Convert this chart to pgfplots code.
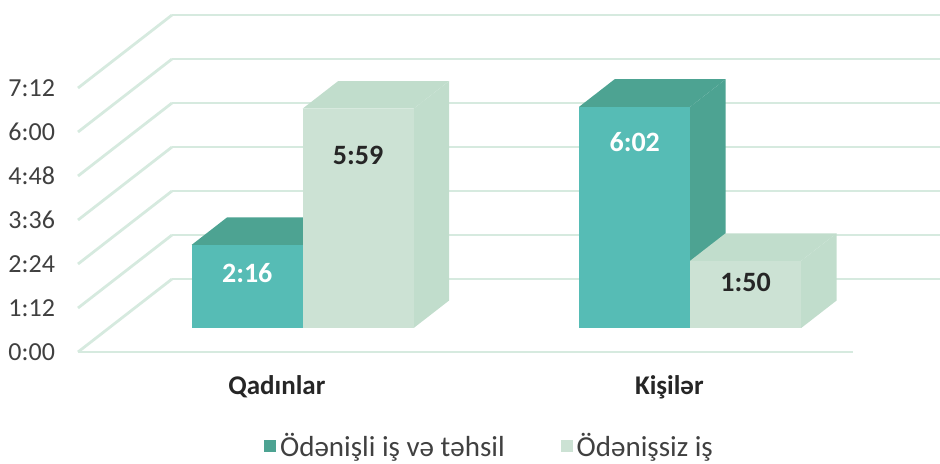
\documentclass[border=0pt]{standalone}
\usepackage{fontspec}
\setmainfont{Carlito}
\usepackage{pgfplots}
\usepackage{pgfplotstable}
\pgfplotsset{compat=1.18}

\definecolor{tealF}{HTML}{56BCB5}
\definecolor{tealS}{HTML}{4DA392}
\definecolor{lightF}{HTML}{CCE2D4}
\definecolor{lightS}{HTML}{C1DDCC}
\definecolor{gridc}{HTML}{D6EADF}
\definecolor{txt}{HTML}{404040}

% bar depth (front and back face)
\def\yA{0.329}
\def\yB{0.706}
% x0, x1, value (minutes), front colour, top/side colour
\newcommand{\barbox}[5]{%
  \addplot3[fill=#5, draw=none, forget plot] coordinates {(#2,\yA,0) (#2,\yB,0) (#2,\yB,#3) (#2,\yA,#3)} -- cycle;
  \addplot3[fill=#5, draw=none, forget plot] coordinates {(#1,\yA,#3) (#2,\yA,#3) (#2,\yB,#3) (#1,\yB,#3)} -- cycle;
  \addplot3[fill=#4, draw=none, forget plot] coordinates {(#1,\yA,0) (#2,\yA,0) (#2,\yA,#3) (#1,\yA,#3)} -- cycle;
}

% label positions: bar centre, height of label, text
\pgfplotstableread{
xc lz lab
0.357 90 2:16
1.357 304 6:02
}\paidlabels
\pgfplotstableread{
xc lz lab
0.643 283 5:59
1.643 74 1:50
}\unpaidlabels

\begin{document}
\begin{tikzpicture}
\useasboundingbox (-39pt,-55.5pt) rectangle (431pt,176pt);
\begin{axis}[
    at={(0pt,0pt)}, anchor=origin,
    x={(193.75pt,0pt)}, y={(47pt,36.5pt)}, z={(0pt,0.305556pt)},
    xmin=0, xmax=2, ymin=0, ymax=1, zmin=0, zmax=432,
    axis line style={draw=none},
    major tick length=0pt,
    ztick={0,72,...,432},
    zticklabels={0:00,1:12,2:24,3:36,4:48,6:00,7:12},
    zticklabel style={font=\fontsize{13}{15}\selectfont, text=txt, anchor=east, xshift=-8pt},
    xtick={0.513,1.526},
    xticklabels={Qadınlar,Kişilər},
    xticklabel style={font=\bfseries\fontsize{13.5}{15}\selectfont, text=black!85, anchor=north, yshift=-8pt},
    ytick=\empty,
    zmajorgrids=true, xmajorgrids=false, ymajorgrids=false,
    grid style={line width=1.4pt, color=gridc},
    clip=false,
    legend columns=2,
    legend style={draw=none, fill=none, at={(0.4735,-0.279)}, anchor=center,
        font=\fontsize{14.5}{16}\selectfont, text=txt,
        nodes={inner sep=1pt},
        /tikz/every odd column/.append style={column sep=1pt},
        /tikz/every even column/.append style={column sep=27pt}},
    legend image code/.code={\fill[#1] (0pt,-3pt) rectangle (6pt,3pt);},
]
\addplot3[gridc, line width=1.4pt, forget plot] coordinates {(0,0,0) (2,0,0)};

\barbox{0.2135}{0.5}{136}{tealF}{tealS}
\barbox{0.5}{0.7865}{359}{lightF}{lightS}
\barbox{1.2135}{1.5}{362}{tealF}{tealS}
\barbox{1.5}{1.7865}{110}{lightF}{lightS}

\addplot3[draw=none, forget plot, nodes near coords, point meta=explicit symbolic,
    nodes near coords style={anchor=center, text=white, font=\bfseries\fontsize{14}{16}\selectfont}]
    table[x=xc, y expr=\yA, z=lz, meta=lab] {\paidlabels};
\addplot3[draw=none, forget plot, nodes near coords, point meta=explicit symbolic,
    nodes near coords style={anchor=center, text=black!85, font=\bfseries\fontsize{14}{16}\selectfont}]
    table[x=xc, y expr=\yA, z=lz, meta=lab] {\unpaidlabels};

\addlegendimage{fill=tealS, draw=none}
\addlegendentry{Ödənişli iş və təhsil}
\addlegendimage{fill=lightF, draw=none}
\addlegendentry{Ödənişsiz iş}
\end{axis}
\end{tikzpicture}
\end{document}
